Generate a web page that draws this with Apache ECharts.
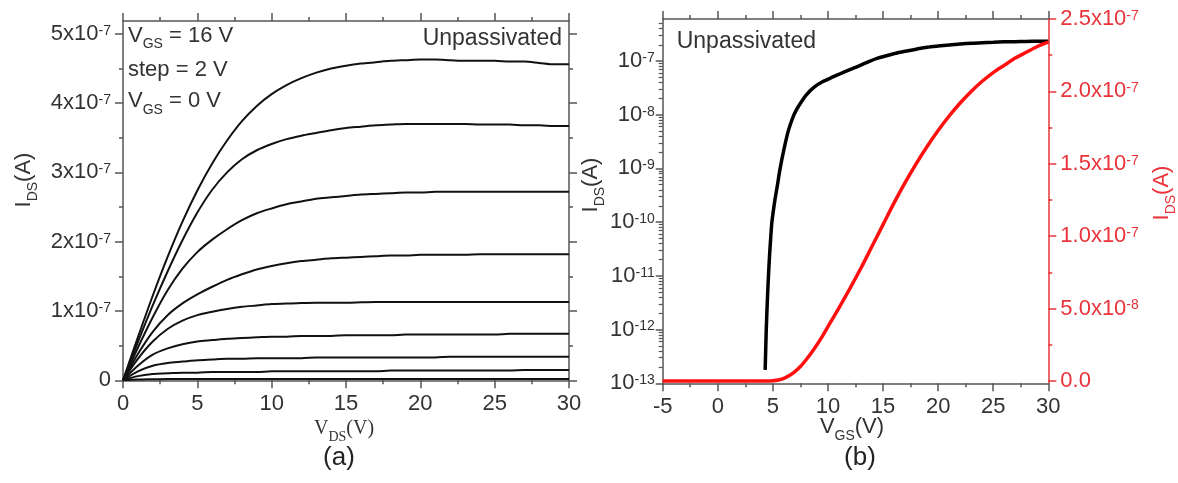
<!DOCTYPE html>
<html><head><meta charset="utf-8">
<script src="https://cdn.jsdelivr.net/npm/echarts@6/dist/echarts.min.js"></script>
<style>html,body{margin:0;padding:0;background:#fff}#c{width:1178px;height:483px}</style>
</head><body><div id="c"></div>
<script>
// ---------------- data ----------------
// (a) output characteristics, I_DS in units of 1e-7 A
const vds = [0,1,2,3,4,5,6,7,8,9,10,11,12,13,14,15,16,17,18,19,20,21,22,23,24,25,26,27,28,29,30];
const idsVgs16 = [0,0.62,1.22,1.78,2.29,2.74,3.13,3.46,3.74,3.96,4.13,4.26,4.36,4.44,4.50,4.54,4.57,4.59,4.61,4.62,4.63,4.63,4.62,4.61,4.61,4.61,4.60,4.60,4.58,4.56,4.56];
const idsVgs14 = [0,0.55,1.08,1.57,2.02,2.42,2.75,3.00,3.19,3.32,3.41,3.48,3.53,3.57,3.61,3.64,3.66,3.68,3.69,3.70,3.70,3.70,3.70,3.70,3.69,3.69,3.69,3.68,3.68,3.67,3.67];
const idsVgs12 = [0,0.47,0.91,1.30,1.61,1.85,2.03,2.18,2.31,2.41,2.48,2.54,2.58,2.62,2.64,2.66,2.68,2.69,2.70,2.71,2.71,2.72,2.72,2.72,2.72,2.72,2.72,2.72,2.72,2.72,2.72];
const idsVgs10 = [0,0.38,0.70,0.94,1.11,1.24,1.35,1.45,1.53,1.60,1.65,1.69,1.72,1.74,1.76,1.77,1.78,1.79,1.80,1.80,1.81,1.81,1.81,1.81,1.82,1.82,1.82,1.82,1.82,1.82,1.82];
const idsVgs8  = [0,0.31,0.56,0.74,0.86,0.94,0.99,1.03,1.06,1.08,1.10,1.11,1.115,1.12,1.12,1.12,1.125,1.13,1.13,1.13,1.13,1.13,1.13,1.13,1.13,1.13,1.13,1.13,1.13,1.13,1.13];
const idsVgs6  = [0,0.21,0.37,0.46,0.52,0.56,0.58,0.60,0.61,0.62,0.63,0.63,0.64,0.64,0.64,0.65,0.65,0.65,0.65,0.66,0.66,0.66,0.66,0.66,0.66,0.66,0.67,0.67,0.67,0.67,0.67];
const idsVgs4  = [0,0.13,0.21,0.25,0.27,0.29,0.30,0.31,0.31,0.32,0.32,0.32,0.32,0.33,0.33,0.33,0.33,0.33,0.33,0.33,0.33,0.33,0.34,0.34,0.34,0.34,0.34,0.34,0.34,0.34,0.34];
const idsVgs2  = [0,0.06,0.09,0.10,0.11,0.11,0.12,0.12,0.12,0.12,0.13,0.13,0.13,0.13,0.13,0.13,0.13,0.13,0.14,0.14,0.14,0.14,0.14,0.14,0.14,0.14,0.14,0.15,0.15,0.15,0.15];
const idsVgs0  = [0,0.01,0.015,0.02,0.02,0.02,0.02,0.02,0.02,0.02,0.02,0.02,0.02,0.02,0.02,0.02,0.02,0.02,0.02,0.02,0.02,0.02,0.02,0.02,0.02,0.02,0.02,0.02,0.02,0.02,0.02];

// (b) transfer characteristic, linear (red, units of 1e-8 A)
const vgsLin = [-5,-4,-3,-2,-1,0,1,2,3,4,4.5,5,5.5,6,6.5,7,7.5,8,8.5,9,9.5,10,10.5,11,12,13,14,15,16,17,18,19,20,21,22,23,24,25,26,27,28,29,30];
const idsLin = [0,0,0,0,0,0,0,0,0,0,0,0.02,0.07,0.18,0.38,0.65,1.0,1.45,1.95,2.5,3.1,3.75,4.4,5.05,6.4,7.8,9.3,10.8,12.3,13.7,15.0,16.2,17.3,18.3,19.2,20.0,20.7,21.3,21.8,22.3,22.7,23.1,23.4];
// (b) transfer characteristic, log (black, A)
const vgsLog = [4.30,4.35,4.40,4.50,4.60,4.70,4.80,4.90,5.00,5.20,5.40,5.66,6.00,6.40,6.87,7.20,7.60,8.00,8.69,9.50,10.5,11.5,12.5,13.5,14.45,16,17,18,19,20,21,22,23,24,25,26,27,28,29,30];
const idsLog = [1.78e-13,4.2e-13,1.0e-12,3.5e-12,1.0e-11,2.4e-11,5.0e-11,9.5e-11,1.4e-10,2.7e-10,4.7e-10,1.0e-9,2.24e-9,5.0e-9,9.5e-9,1.3e-8,1.75e-8,2.3e-8,3.2e-8,4.1e-8,5.1e-8,6.3e-8,7.6e-8,9.3e-8,1.12e-7,1.37e-7,1.52e-7,1.66e-7,1.80e-7,1.90e-7,1.99e-7,2.07e-7,2.14e-7,2.19e-7,2.23e-7,2.27e-7,2.29e-7,2.31e-7,2.33e-7,2.34e-7];

// tick values
const yTicksA = [0,1e-7,2e-7,3e-7,4e-7,5e-7];
const yMinorA = [0.5e-7,1.5e-7,2.5e-7,3.5e-7,4.5e-7];
const yTicksLog = [1e-13,1e-12,1e-11,1e-10,1e-9,1e-8,1e-7];
const yTicksRed = [0,5e-8,1e-7,1.5e-7,2e-7,2.5e-7];
const yMinorRed = [2.5e-8,7.5e-8,1.25e-7,1.75e-7,2.25e-7];

// ---------------- chart ----------------
const FF = '"Liberation Sans", Arial, sans-serif';
const SERIF = '"Liberation Serif", "Times New Roman", serif';
const AX = '#555';
const TXT = '#333';
const RED_AX = '#e8343a';
const RED_LN = '#ff1010';

let yMinorLog = [];
for (let e = -13; e <= -7; e++) for (let k = 2; k <= 9; k++) { const v = k * Math.pow(10, e); if (v < 6e-7) yMinorLog.push(v); }

const pair = (xs, ys, s) => xs.map((x, i) => [x, ys[i] * s]);

function richFor(color) {
  return {
    b: {fontSize: 22, fontFamily: FF, color: color, lineHeight: 20, verticalAlign: 'middle'},
    s: {fontSize: 14, fontFamily: FF, color: color, lineHeight: 16, verticalAlign: 'top'}
  };
}
function fmtA(v) {
  const n = Math.round(v / 1e-7);
  return n === 0 ? '{b|0}' : '{b|' + n + 'x10}{s|-7}';
}
function fmtLog(v) {
  const e = Math.round(Math.log10(v));
  return '{b|10}{s|' + e + '}';
}
function fmtRed(v) {
  if (Math.abs(v) < 1e-12) return '{b|0.0}';
  const e = Math.floor(Math.log10(v) + 1e-9);
  const m = v / Math.pow(10, e);
  return '{b|' + m.toFixed(1) + 'x10}{s|' + e + '}';
}

const axLine = (c) => ({show: true, onZero: false, lineStyle: {color: c, width: 1.5}});

function xAxisDef(grid, pos, min, max, showLabel) {
  return {
    type: 'value', gridIndex: grid, position: pos, min: min, max: max, interval: 5,
    axisLine: axLine(AX),
    axisTick: {show: true, length: 8, lineStyle: {color: AX, width: 1.5}},
    minorTick: {show: true, splitNumber: 2, length: 4, lineStyle: {color: AX, width: 1.5}},
    splitLine: {show: false}, minorSplitLine: {show: false},
    axisLabel: {show: showLabel, margin: 13, fontSize: 22, fontFamily: FF, color: TXT}
  };
}
function yAxisDef(o) {
  return Object.assign({
    splitLine: {show: false}, minorTick: {show: false}
  }, o);
}
const noLine = {show: false, onZero: false};

const seriesA = [idsVgs16, idsVgs14, idsVgs12, idsVgs10, idsVgs8, idsVgs6, idsVgs4, idsVgs2, idsVgs0].map(arr => ({
  type: 'line', xAxisIndex: 0, yAxisIndex: 0, data: pair(vds, arr, 1e-7),
  showSymbol: false, smooth: 0.3, lineStyle: {color: '#111', width: 2}, z: 3
}));

const option = {
  animation: false,
  backgroundColor: '#fff',
  grid: [
    {left: 123, top: 21, width: 446, height: 359.3},
    {left: 662.7, top: 19, width: 385.6, height: 364.3}
  ],
  xAxis: [
    xAxisDef(0, 'bottom', 0, 30, true),
    xAxisDef(0, 'top', 0, 30, false),
    xAxisDef(1, 'bottom', -5, 30, true),
    xAxisDef(1, 'top', -5, 30, false)
  ],
  yAxis: [
    // 0: (a) left major
    yAxisDef({type: 'value', gridIndex: 0, position: 'left', min: 0, max: 5.185e-7,
      axisLine: axLine(AX),
      axisTick: {show: true, length: 8, customValues: yTicksA, lineStyle: {color: AX, width: 1.5}},
      axisLabel: {show: true, customValues: yTicksA, margin: 12, formatter: fmtA, rich: richFor(TXT)}}),
    // 1: (a) left minor
    yAxisDef({type: 'value', gridIndex: 0, position: 'left', min: 0, max: 5.185e-7,
      axisLine: noLine,
      axisTick: {show: true, length: 4, customValues: yMinorA, lineStyle: {color: AX, width: 1.5}},
      axisLabel: {show: false}}),
    // 2: (a) right major
    yAxisDef({type: 'value', gridIndex: 0, position: 'right', min: 0, max: 5.185e-7,
      axisLine: axLine(AX),
      axisTick: {show: true, length: 8, customValues: yTicksA, lineStyle: {color: AX, width: 1.5}},
      axisLabel: {show: false}}),
    // 3: (a) right minor
    yAxisDef({type: 'value', gridIndex: 0, position: 'right', min: 0, max: 5.185e-7,
      axisLine: noLine,
      axisTick: {show: true, length: 4, customValues: yMinorA, lineStyle: {color: AX, width: 1.5}},
      axisLabel: {show: false}}),
    // 4: (b) left log major
    yAxisDef({type: 'log', logBase: 10, gridIndex: 1, position: 'left', min: 1e-13, max: 6.05e-7,
      axisLine: axLine(AX),
      axisTick: {show: true, length: 7, customValues: yTicksLog, lineStyle: {color: AX, width: 1.5}},
      axisLabel: {show: true, customValues: yTicksLog, margin: 8, formatter: fmtLog, rich: richFor(TXT)}}),
    // 5: (b) left log minor
    yAxisDef({type: 'log', logBase: 10, gridIndex: 1, position: 'left', min: 1e-13, max: 6.05e-7,
      axisLine: noLine,
      axisTick: {show: true, length: 4, customValues: yMinorLog, lineStyle: {color: AX, width: 1.2}},
      axisLabel: {show: false}}),
    // 6: (b) right linear red major
    yAxisDef({type: 'value', gridIndex: 1, position: 'right', min: -1.6e-9, max: 2.5e-7,
      axisLine: axLine(RED_AX),
      axisTick: {show: true, length: 8, customValues: yTicksRed, lineStyle: {color: RED_AX, width: 1.5}},
      axisLabel: {show: true, customValues: yTicksRed, margin: 12, formatter: fmtRed, rich: richFor(RED_AX)}}),
    // 7: (b) right red minor
    yAxisDef({type: 'value', gridIndex: 1, position: 'right', min: -1.6e-9, max: 2.5e-7,
      axisLine: noLine,
      axisTick: {show: true, length: 4, customValues: yMinorRed, lineStyle: {color: RED_AX, width: 1.5}},
      axisLabel: {show: false}})
  ],
  series: seriesA.concat([
    {type: 'line', xAxisIndex: 2, yAxisIndex: 4, data: pair(vgsLog, idsLog, 1),
      showSymbol: false, smooth: 0.3, lineStyle: {color: '#000', width: 3.5}, z: 3},
    {type: 'line', xAxisIndex: 2, yAxisIndex: 6, data: pair(vgsLin, idsLin, 1e-8),
      showSymbol: false, smooth: 0.3, lineStyle: {color: RED_LN, width: 3.5}, z: 4}
  ]),
  graphic: [
    // annotations panel (a)
    {type: 'text', x: 128, y: 35.6, style: {text: '{m|V}{s|GS}{m| = 16 V}', align: 'left', verticalAlign: 'middle',
      rich: {m: {fontSize: 22, fontFamily: FF, fill: TXT, lineHeight: 32, verticalAlign: 'middle'}, s: {fontSize: 14, fontFamily: FF, fill: TXT, lineHeight: 12, verticalAlign: 'bottom'}}}},
    {type: 'text', x: 128, y: 70.3, style: {text: 'step = 2 V', align: 'left', verticalAlign: 'middle', fontSize: 22, fontFamily: FF, fill: TXT}},
    {type: 'text', x: 128, y: 101.3, style: {text: '{m|V}{s|GS}{m| = 0 V}', align: 'left', verticalAlign: 'middle',
      rich: {m: {fontSize: 22, fontFamily: FF, fill: TXT, lineHeight: 32, verticalAlign: 'middle'}, s: {fontSize: 14, fontFamily: FF, fill: TXT, lineHeight: 12, verticalAlign: 'bottom'}}}},
    {type: 'text', x: 562, y: 38.6, style: {text: 'Unpassivated', align: 'right', verticalAlign: 'middle', fontSize: 23, fontFamily: FF, fill: TXT}},
    {type: 'text', x: 676.7, y: 42, style: {text: 'Unpassivated', align: 'left', verticalAlign: 'middle', fontSize: 23, fontFamily: FF, fill: TXT}},
    // axis titles
    {type: 'text', x: 344, y: 429, style: {text: '{m|V}{s|DS}{m|(V)}', align: 'center', verticalAlign: 'middle',
      rich: {m: {fontSize: 20, fontFamily: SERIF, fill: TXT, lineHeight: 30, verticalAlign: 'middle'}, s: {fontSize: 14, fontFamily: SERIF, fill: TXT, lineHeight: 12, verticalAlign: 'bottom'}}}},
    {type: 'text', x: 852, y: 427.3, style: {text: '{m|V}{s|GS}{m|(V)}', align: 'center', verticalAlign: 'middle',
      rich: {m: {fontSize: 22, fontFamily: FF, fill: TXT, lineHeight: 32, verticalAlign: 'middle'}, s: {fontSize: 14, fontFamily: FF, fill: TXT, lineHeight: 12, verticalAlign: 'bottom'}}}},
    {type: 'text', x: 24, y: 180, rotation: Math.PI / 2, style: {text: '{m|I}{s|DS}{m|(A)}', align: 'center', verticalAlign: 'middle',
      rich: {m: {fontSize: 22, fontFamily: FF, fill: TXT, lineHeight: 32, verticalAlign: 'middle'}, s: {fontSize: 14, fontFamily: FF, fill: TXT, lineHeight: 12, verticalAlign: 'bottom'}}}},
    {type: 'text', x: 591, y: 185, rotation: Math.PI / 2, style: {text: '{m|I}{s|DS}{m|(A)}', align: 'center', verticalAlign: 'middle',
      rich: {m: {fontSize: 22, fontFamily: FF, fill: TXT, lineHeight: 32, verticalAlign: 'middle'}, s: {fontSize: 14, fontFamily: FF, fill: TXT, lineHeight: 12, verticalAlign: 'bottom'}}}},
    {type: 'text', x: 1162, y: 193, rotation: Math.PI / 2, style: {text: '{m|I}{s|DS}{m|(A)}', align: 'center', verticalAlign: 'middle',
      rich: {m: {fontSize: 22, fontFamily: FF, fill: RED_AX, lineHeight: 32, verticalAlign: 'middle'}, s: {fontSize: 14, fontFamily: FF, fill: RED_AX, lineHeight: 12, verticalAlign: 'bottom'}}}},
    // panel labels
    {type: 'text', x: 339, y: 458, style: {text: '(a)', align: 'center', verticalAlign: 'middle', fontSize: 26, fontFamily: FF, fill: '#222'}},
    {type: 'text', x: 860, y: 458, style: {text: '(b)', align: 'center', verticalAlign: 'middle', fontSize: 26, fontFamily: FF, fill: '#222'}}
  ]
};

const chart = echarts.init(document.getElementById('c'), null, {renderer: 'canvas'});
chart.setOption(option);
</script>
</body></html>
